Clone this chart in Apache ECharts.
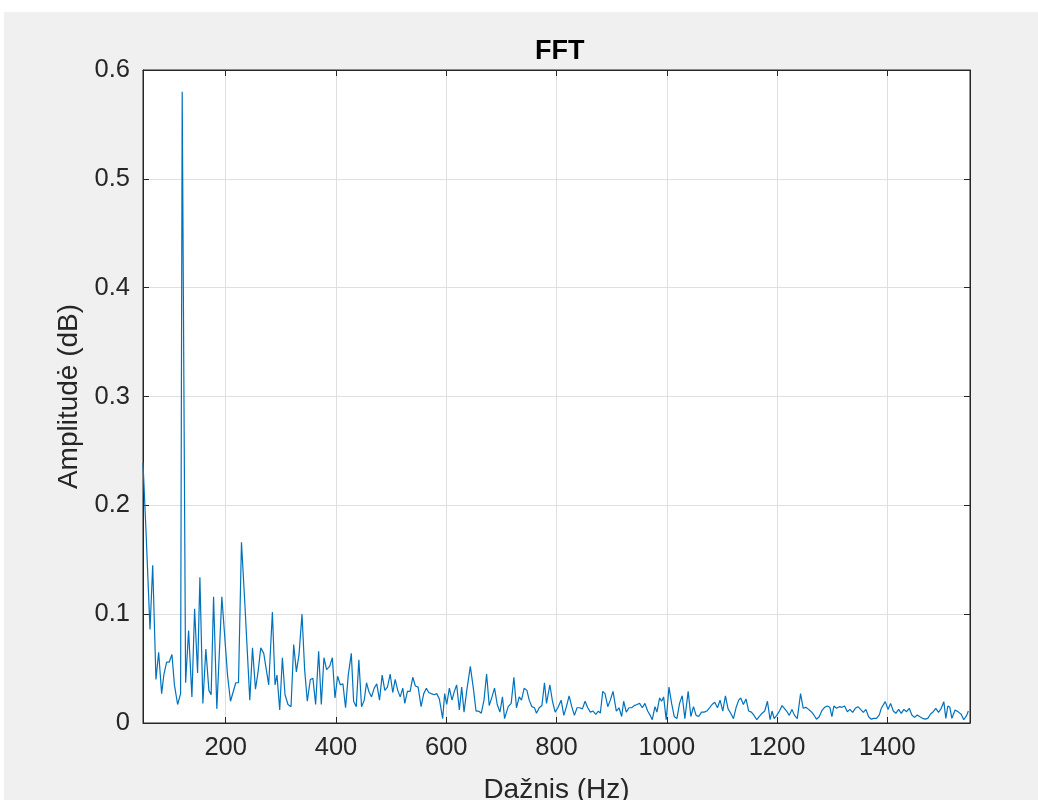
<!DOCTYPE html>
<html>
<head>
<meta charset="utf-8">
<title>FFT</title>
<script src="https://cdn.jsdelivr.net/npm/echarts@6/dist/echarts.min.js"></script>
<style>
  html, body { margin: 0; padding: 0; background: #fff; }
  #chart { position: absolute; left: 4px; top: 12px; width: 1034px; height: 788px; }
</style>
</head>
<body>
<div id="chart"></div>
<script>
// frequency bins (Hz)
const freqHz = [
  50, 55.4, 62.7, 67.6, 73.5, 78.4, 83.8, 88, 92.9, 97.6, 102.5, 107, 112.8, 118.2, 121.1, 127.3,
  132.7, 138.7, 143.6, 149, 153.2, 158.6, 164, 169.5, 173.6, 178, 183.9, 193, 203.3, 208.7,
  218.3, 223.2, 228.6, 234.6, 243.7, 248.6, 254, 258.7, 263.6, 269, 278,
  284.7, 289.5, 293, 298, 302.8, 307.6, 313, 318.5, 323.3, 328.2, 333, 338.4, 343.2, 348,
  353.5, 358.2, 363.1, 368.6, 373.4, 378.2, 383, 388.5, 393.4, 398.2, 403, 407.9, 412.6,
  417.4, 422.3, 427.8, 432, 436.8, 441.5, 446.4, 451.3, 455.4, 459.6, 464.5, 469.4, 474,
  479, 483.8, 488.6, 493.4, 498.3, 503, 507.4, 512, 516.5, 521.2, 524.8, 529.6, 534.5,
  539.3, 544, 549, 554.4, 559.2, 564, 568.2, 573, 578, 582.7,
  587.6, 593.5, 597.2, 600.8, 605.7, 610.5, 614.7, 618.9, 623.8, 628, 632.3, 637, 643.7,
  649.7, 654, 658.7, 663.6, 668.5, 673.2, 678, 683, 687.6, 692.5, 697.4, 702, 705.8, 708.3,
  712.4, 717.8, 722.7, 727.4, 732.4, 736.5, 741.4, 746.3, 750.5, 755.4, 760, 763.7, 768.6,
  773.5, 778.2, 781.9, 788, 792.7, 797.6, 802.5, 808.4, 813.3, 818, 822.9, 827.7, 832.5,
  837.3, 842.2, 847, 851.8, 856.7, 861.4, 866.3, 871.2, 876, 879.5, 883.9, 888, 893,
  897.6, 902.5,
  908.5, 913.4, 918.2, 921.8, 926.6, 931.4, 936.3, 941, 946, 950.8, 955.6, 960.4, 965.3,
  970, 973.7, 978.6, 982.2, 987, 990.7, 994.3, 999, 1004, 1008.8, 1013.5, 1018.4, 1023.2,
  1028, 1032.8, 1038.8, 1043.7, 1048.5, 1053.2, 1058, 1063, 1067.7, 1072.6, 1077.5, 1082.2,
  1087, 1092, 1096.7, 1101.6, 1106.4, 1111.2, 1116, 1121, 1125.6, 1130.5, 1134.2, 1139,
  1143.8, 1148.6, 1153.5, 1158.3, 1163.2, 1168, 1172.9, 1177.7, 1182.6, 1187.4, 1191,
  1194.7, 1199.5, 1204.4, 1209.2,
  1212.4, 1217.3, 1222.2, 1227, 1231.8, 1236.7, 1242.7, 1247.5, 1252.3, 1257.2, 1262.1,
  1266.8, 1271.6, 1276.5, 1281.3, 1286.2, 1291.1, 1295.8, 1299.5, 1303.1, 1308, 1312.9,
  1317.7, 1322.5, 1327.5, 1332.2, 1337.1, 1342, 1346.7, 1351.5, 1356.5, 1361.2, 1366.1,
  1371, 1375.7, 1380.5, 1385.5, 1389.1, 1392.7, 1396.3, 1401.2, 1406, 1410.9, 1415.5,
  1420.5, 1425.3, 1430.1, 1434.9, 1439.8, 1444.5, 1449.5, 1454.3, 1459.1, 1463.9, 1468.8,
  1473.5, 1478.5, 1483.3, 1488, 1492.9, 1497.8, 1502.5, 1506.2, 1509.8, 1513.5, 1517.1,
  1523, 1529, 1534, 1538.7, 1544, 1547
];

// amplitude at each bin
const amplitude = [
  0.239, 0.177, 0.086, 0.145, 0.040, 0.065, 0.027, 0.045, 0.056, 0.056, 0.063, 0.035, 0.017, 0.027, 0.580, 0.037,
  0.085, 0.024, 0.105, 0.046, 0.134, 0.018, 0.068, 0.030, 0.026, 0.116, 0.013, 0.116, 0.044, 0.020,
  0.037, 0.037, 0.166, 0.111, 0.021, 0.069, 0.031, 0.047, 0.069, 0.064, 0.035,
  0.102, 0.035, 0.044, 0.012, 0.060, 0.026, 0.017, 0.015, 0.072, 0.047, 0.063, 0.100, 0.049, 0.020,
  0.040, 0.041, 0.017, 0.066, 0.017, 0.060, 0.049, 0.052, 0.060, 0.023, 0.043, 0.035, 0.036,
  0.014, 0.044, 0.064, 0.020, 0.015, 0.058, 0.015, 0.021, 0.037, 0.029, 0.024, 0.032, 0.036,
  0.021, 0.044, 0.030, 0.033, 0.045, 0.028, 0.040, 0.030, 0.024, 0.032, 0.018, 0.029, 0.029,
  0.042, 0.034, 0.033, 0.015, 0.027, 0.032, 0.028, 0.027, 0.026, 0.027,
  0.022, 0.004, 0.027, 0.017, 0.032, 0.021, 0.029, 0.035, 0.012, 0.033, 0.010, 0.029, 0.052,
  0.030, 0.011, 0.011, 0.009, 0.021, 0.045, 0.016, 0.024, 0.032, 0.017, 0.010, 0.024, 0.004, 0.003,
  0.015, 0.018, 0.042, 0.014, 0.024, 0.021, 0.032, 0.030, 0.021, 0.015, 0.014, 0.009, 0.014,
  0.016, 0.037, 0.018, 0.035, 0.020, 0.010, 0.014, 0.021, 0.007, 0.015, 0.025, 0.015, 0.007,
  0.014, 0.014, 0.013, 0.020, 0.014, 0.010, 0.011, 0.008, 0.011, 0.009, 0.029, 0.027, 0.015,
  0.021, 0.029,
  0.011, 0.014, 0.006, 0.020, 0.010, 0.014, 0.014, 0.016, 0.017, 0.018, 0.014, 0.018, 0.011,
  0.007, 0.003, 0.015, 0.010, 0.023, 0.020, 0.024, 0.003, 0.033, 0.018, 0.006, 0.004, 0.018,
  0.025, 0.004, 0.029, 0.006, 0.015, 0.007, 0.006, 0.010, 0.010, 0.011, 0.014, 0.017,
  0.019, 0.014, 0.021, 0.011, 0.025, 0.013, 0.009, 0.004, 0.014, 0.021, 0.023, 0.017,
  0.022, 0.011, 0.010, 0.007, 0.003, 0.006, 0.009, 0.011, 0.020, 0.003, 0.011,
  0.004, 0.007, 0.011, 0.016,
  0.016, 0.011, 0.007, 0.0125, 0.007, 0.004, 0.027, 0.0135, 0.0144, 0.0125, 0.0104,
  0.0074, 0.0035, 0.0058, 0.0113, 0.0144, 0.0156, 0.0144, 0.0058, 0.0156, 0.0135, 0.015,
  0.0144, 0.0156, 0.0104, 0.0125, 0.0098, 0.0135, 0.015, 0.0125, 0.0098, 0.0125, 0.0058,
  0.0035, 0.0043, 0.0043, 0.0074, 0.0135, 0.0125, 0.0196, 0.0125, 0.018, 0.011, 0.0089,
  0.0125, 0.0089, 0.0125, 0.0104, 0.0135, 0.0074, 0.0052, 0.0074, 0.0058, 0.0043, 0.0035,
  0.0043, 0.0083, 0.0104, 0.0135, 0.0098, 0.0135, 0.0196, 0.0043, 0.0156, 0.0144, 0.0043,
  0.012, 0.010, 0.008, 0.003, 0.007, 0.011
];

const xTickValues = [200, 400, 600, 800, 1000, 1200, 1400];

const chartTitle = 'FFT';
const xName = 'Dažnis (Hz)';
const yName = 'Amplitudė (dB)';

const FONT = '"Liberation Sans", Arial, Helvetica, sans-serif';
const INK = '#262626';
const GRID = '#dfdfdf';

const chart = echarts.init(document.getElementById('chart'));

const tickStyle = { show: true, inside: true, length: 6, lineStyle: { color: INK, width: 1 } };

chart.setOption({
  animation: false,
  backgroundColor: '#f0f0f0',
  title: {
    text: chartTitle,
    left: 526,
    top: 21,
    textStyle: { fontFamily: FONT, fontSize: 27, fontWeight: 'bold', color: '#000' }
  },
  grid: {
    left: 139, top: 58, right: 68, bottom: 77,
    outerBoundsMode: 'none',
    containLabel: false,
    show: true,
    backgroundColor: '#ffffff',
    borderColor: INK,
    borderWidth: 1
  },
  xAxis: [
    {
      type: 'value',
      position: 'bottom',
      min: 50,
      max: 1550,
      name: xName,
      nameLocation: 'middle',
      nameGap: 53,
      nameTextStyle: { fontFamily: FONT, fontSize: 28, color: INK },
      axisLine: { show: true, onZero: false, lineStyle: { color: INK, width: 1 } },
      axisTick: Object.assign({ customValues: xTickValues }, tickStyle),
      axisLabel: {
        customValues: xTickValues,
        formatter: v => String(v),
        fontFamily: FONT, fontSize: 25.5, color: INK, margin: 12
      },
      splitLine: { show: true, lineStyle: { color: GRID, width: 1 } }
    },
    {
      type: 'value',
      position: 'top',
      min: 50,
      max: 1550,
      axisLine: { show: true, onZero: false, lineStyle: { color: INK, width: 1 } },
      axisTick: Object.assign({ customValues: xTickValues }, tickStyle),
      axisLabel: { show: false },
      splitLine: { show: false }
    }
  ],
  yAxis: [
    {
      type: 'value',
      position: 'left',
      min: 0,
      max: 0.6,
      interval: 0.1,
      name: yName,
      nameLocation: 'middle',
      nameGap: 58,
      nameTextStyle: { fontFamily: FONT, fontSize: 28, color: INK },
      axisLine: { show: true, onZero: false, lineStyle: { color: INK, width: 1 } },
      axisTick: tickStyle,
      axisLabel: { fontFamily: FONT, fontSize: 25.5, color: INK, margin: 13 },
      splitLine: { show: true, lineStyle: { color: GRID, width: 1 } }
    },
    {
      type: 'value',
      position: 'right',
      min: 0,
      max: 0.6,
      interval: 0.1,
      axisLine: { show: true, onZero: false, lineStyle: { color: INK, width: 1 } },
      axisTick: tickStyle,
      axisLabel: { show: false },
      splitLine: { show: false }
    }
  ],
  series: [
    {
      type: 'line',
      xAxisIndex: 0,
      yAxisIndex: 0,
      data: freqHz.map((f, i) => [f, amplitude[i]]),
      showSymbol: false,
      clip: true,
      lineStyle: { color: '#0072BD', width: 1.2 },
      itemStyle: { color: '#0072BD' }
    }
  ]
});
</script>
</body>
</html>
